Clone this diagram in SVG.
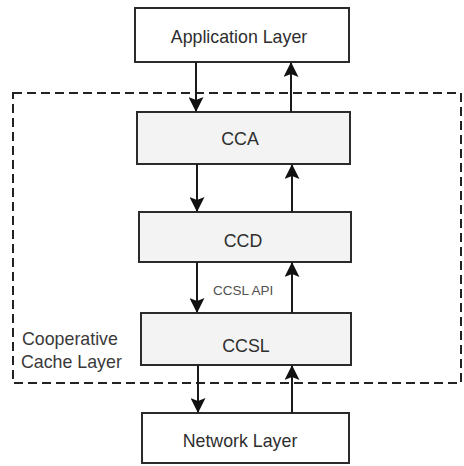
<svg xmlns="http://www.w3.org/2000/svg" width="464" height="466" viewBox="0 0 464 466">
  <style>
    .box { stroke: #2b2b2b; stroke-width: 2; }
    .plain { fill: #ffffff; }
    .shade { fill: #f3f3f3; }
    .lbl { font-family: "Liberation Sans", Arial, sans-serif; font-size: 17.8px; fill: #2e2e2e; text-anchor: middle; }
    .small { font-family: "Liberation Sans", Arial, sans-serif; font-size: 13.5px; fill: #505050; }
    .side { font-family: "Liberation Sans", Arial, sans-serif; font-size: 17.8px; fill: #3a3a3a; }
    .conn { stroke: #1a1a1a; stroke-width: 2; fill: none; }
    .frame { fill: none; stroke: #222; stroke-width: 2; stroke-dasharray: 9 5; }
  </style>
  <defs>
    <marker id="ah" viewBox="0 0 15 15" refX="14" refY="7.5" markerWidth="15" markerHeight="15" markerUnits="userSpaceOnUse" orient="auto">
      <path d="M0,0 L15,7.5 L0,15 L3,7.5 Z" fill="#111"/>
    </marker>
  </defs>

  <rect class="frame" x="13" y="93" width="448" height="290"/>

  <g id="app">
    <rect class="box plain" x="135" y="8" width="214" height="54"/>
    <text class="lbl" x="239" y="43">Application Layer</text>
  </g>
  <g id="cca">
    <rect class="box shade" x="137" y="112" width="213" height="52"/>
    <text class="lbl" x="240" y="145">CCA</text>
  </g>
  <g id="ccd">
    <rect class="box shade" x="139" y="212" width="212" height="50"/>
    <text class="lbl" x="243" y="247">CCD</text>
  </g>
  <g id="ccsl">
    <rect class="box shade" x="141" y="313" width="210" height="52"/>
    <text class="lbl" x="246" y="352">CCSL</text>
  </g>
  <g id="net">
    <rect class="box plain" x="142" y="413" width="207" height="50"/>
    <text class="lbl" x="240" y="447">Network Layer</text>
  </g>
  <g id="cache-label">
    <text class="side" x="22" y="345">Cooperative</text>
    <text class="side" x="21" y="368">Cache Layer</text>
  </g>

  <g id="connectors">
    <line class="conn" x1="196" y1="62" x2="196" y2="111" marker-end="url(#ah)"/>
    <line class="conn" x1="291" y1="112" x2="291" y2="63" marker-end="url(#ah)"/>
    <line class="conn" x1="197" y1="164" x2="197" y2="211" marker-end="url(#ah)"/>
    <line class="conn" x1="292" y1="212" x2="292" y2="165" marker-end="url(#ah)"/>
    <line class="conn" x1="197" y1="262" x2="197" y2="312" marker-end="url(#ah)"/>
    <line class="conn" x1="292" y1="313" x2="292" y2="263" marker-end="url(#ah)"/>
    <line class="conn" x1="198" y1="365" x2="198" y2="412" marker-end="url(#ah)"/>
    <line class="conn" x1="292" y1="413" x2="292" y2="366" marker-end="url(#ah)"/>
    <text class="small" x="213" y="295">CCSL API</text>
  </g>
</svg>
